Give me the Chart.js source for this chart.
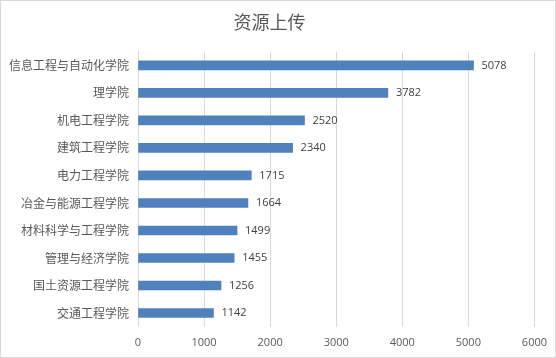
<!DOCTYPE html>
<html>
<head>
<meta charset="utf-8">
<script src="https://cdn.jsdelivr.net/npm/chart.js@4"></script>
<style>
  html, body { margin: 0; padding: 0; background: #fff; }
  #wrap { width: 556px; height: 358px; position: relative; }
</style>
</head>
<body>
<div id="wrap"><canvas id="chart" width="556" height="358"></canvas></div>
<script>
const title = '资源上传';
const colleges = [
  '信息工程与自动化学院',
  '理学院',
  '机电工程学院',
  '建筑工程学院',
  '电力工程学院',
  '冶金与能源工程学院',
  '材料科学与工程学院',
  '管理与经济学院',
  '国土资源工程学院',
  '交通工程学院'
];
const uploads = [5078, 3782, 2520, 2340, 1715, 1664, 1499, 1455, 1256, 1142];
const xMax = 6000;
const xStep = 1000;

const textColor = '#595959';
const gridColor = '#d9d9d9';
const barColor = '#4f81bd';

// white background + thin grey frame round the whole chart
const frame = {
  id: 'frame',
  beforeDraw: (chart) => {
    const ctx = chart.ctx;
    ctx.save();
    ctx.fillStyle = '#fff';
    ctx.fillRect(0, 0, chart.width, chart.height);
    ctx.strokeStyle = gridColor;
    ctx.lineWidth = 1;
    ctx.strokeRect(0.5, 0.5, chart.width - 1, chart.height - 1);
    ctx.restore();
  }
};

// value labels to the right of each bar
const valueLabels = {
  id: 'valueLabels',
  afterDatasetsDraw: (chart) => {
    const ctx = chart.ctx;
    const meta = chart.getDatasetMeta(0);
    ctx.save();
    ctx.font = '11px "Open Sans", "Liberation Sans", sans-serif';
    ctx.fillStyle = '#404040';
    ctx.textAlign = 'left';
    ctx.textBaseline = 'middle';
    meta.data.forEach((bar, i) => {
      ctx.fillText(String(uploads[i]), bar.x + 8, bar.y);
    });
    ctx.restore();
  }
};

new Chart(document.getElementById('chart').getContext('2d'), {
  type: 'bar',
  data: {
    labels: colleges,
    datasets: [
      {
        data: uploads,
        backgroundColor: barColor,
        borderWidth: 0,
        barThickness: 9,
      },
    ],
  },
  options: {
    indexAxis: 'y',
    responsive: false,
    animation: false,
    layout: {
      padding: { left: 0, right: 17, top: 0, bottom: 0 },
    },
    plugins: {
      legend: { display: false },
      tooltip: { enabled: false },
      title: {
        display: true,
        text: title,
        color: textColor,
        font: { family: '"Noto Sans CJK SC", sans-serif', size: 18, weight: 'normal' },
        padding: { top: 11, bottom: 19 },
      },
    },
    scales: {
      x: {
        min: 0,
        max: xMax,
        ticks: {
          stepSize: xStep,
          color: textColor,
          padding: 9,
          font: { family: '"Open Sans", "Liberation Sans", sans-serif', size: 11 },
          callback: (v) => String(v),
        },
        grid: { color: gridColor, drawTicks: false },
        border: { display: false },
      },
      y: {
        ticks: {
          color: textColor,
          padding: 9,
          font: { family: '"Noto Sans CJK SC", sans-serif', size: 12 },
        },
        grid: { display: false, drawTicks: false },
        border: { display: true, color: gridColor },
      },
    },
  },
  plugins: [frame, valueLabels],
});
</script>
</body>
</html>
